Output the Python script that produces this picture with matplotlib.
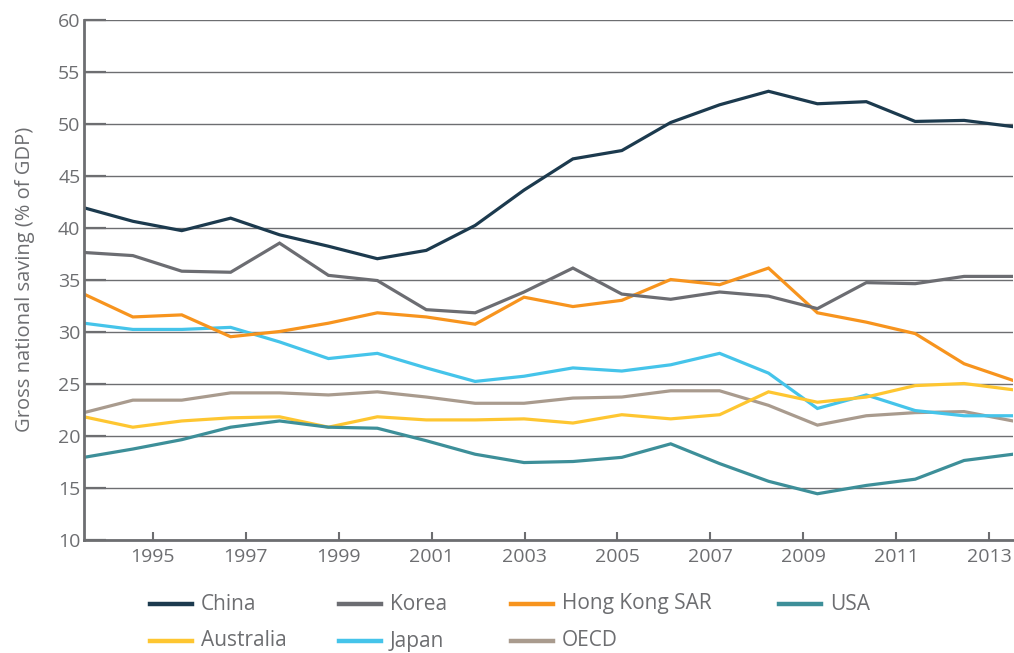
import matplotlib
matplotlib.use("Agg")
import matplotlib.pyplot as plt
from matplotlib.lines import Line2D
import numpy as np

# data, 20 annual points
china = [41.9, 40.6, 39.7, 40.9, 39.3, 38.2, 37.0, 37.8, 40.2, 43.6,
         46.6, 47.4, 50.1, 51.8, 53.1, 51.9, 52.1, 50.2, 50.3, 49.7]
korea = [37.6, 37.3, 35.8, 35.7, 38.5, 35.4, 34.9, 32.1, 31.8, 33.8,
         36.1, 33.6, 33.1, 33.8, 33.4, 32.2, 34.7, 34.6, 35.3, 35.3]
hong_kong = [33.6, 31.4, 31.6, 29.5, 30.0, 30.8, 31.8, 31.4, 30.7, 33.3,
             32.4, 33.0, 35.0, 34.5, 36.1, 31.8, 30.9, 29.8, 26.9, 25.3]
usa = [17.9, 18.7, 19.6, 20.8, 21.4, 20.8, 20.7, 19.5, 18.2, 17.4,
       17.5, 17.9, 19.2, 17.3, 15.6, 14.4, 15.2, 15.8, 17.6, 18.2]
australia = [21.8, 20.8, 21.4, 21.7, 21.8, 20.8, 21.8, 21.5, 21.5, 21.6,
             21.2, 22.0, 21.6, 22.0, 24.2, 23.2, 23.7, 24.8, 25.0, 24.4]
japan = [30.8, 30.2, 30.2, 30.4, 29.0, 27.4, 27.9, 26.5, 25.2, 25.7,
         26.5, 26.2, 26.8, 27.9, 26.0, 22.6, 23.9, 22.4, 21.9, 21.9]
oecd = [22.2, 23.4, 23.4, 24.1, 24.1, 23.9, 24.2, 23.7, 23.1, 23.1,
        23.6, 23.7, 24.3, 24.3, 22.9, 21.0, 21.9, 22.2, 22.3, 21.4]

tick_labels = ["1995", "1997", "1999", "2001", "2003",
               "2005", "2007", "2009", "2011", "2013"]

series = [
    ("China", china, "#1c3a4e"),
    ("Korea", korea, "#6c6d72"),
    ("Hong Kong SAR", hong_kong, "#f7941e"),
    ("USA", usa, "#3d8f99"),
    ("Australia", australia, "#fec631"),
    ("Japan", japan, "#45c4ea"),
    ("OECD", oecd, "#a99b8e"),
]

grey = "#6d6e71"
plt.rcParams["font.family"] = ["Open Sans", "DejaVu Sans"]

fig = plt.figure(figsize=(10.14, 6.53), dpi=100)
ax = fig.add_axes([0.0828, 0.1738, 0.9162, 0.7963])

x = np.arange(len(china))
# draw in reverse so China sits on top
for name, vals, col in series[::-1]:
    ax.plot(x, vals, color=col, lw=2.3, solid_joinstyle="miter")

ax.set_xlim(0, len(china) - 1)
ax.set_ylim(10, 60)
ax.set_yticks(np.arange(10, 61, 5))
ax.set_xticks(np.linspace(1.41, 18.51, len(tick_labels)))
ax.set_xticklabels(tick_labels)

ax.grid(axis="y", color=grey, lw=1.0, zorder=0)
ax.set_axisbelow(True)
for s in ["top", "right"]:
    ax.spines[s].set_visible(False)
for s in ["left", "bottom"]:
    ax.spines[s].set_color(grey)
    ax.spines[s].set_linewidth(2)

ax.tick_params(axis="y", direction="in", length=16, width=1.6, color=grey,
               labelcolor=grey, labelsize=14, pad=2.5)
ax.tick_params(axis="x", direction="in", length=6, width=1.5, color=grey,
               labelcolor=grey, labelsize=14, pad=6)
ax.set_ylabel("Gross national saving (% of GDP)", color=grey, fontsize=14.5)
ax.yaxis.set_label_coords(-0.053, 0.5)

# legend, two rows of four
col_x = [150, 339, 511, 779]
row_y = [604, 641]
W, H = 1014, 653
for i, (name, vals, col) in enumerate(series):
    r, c = divmod(i, 4)
    x0 = col_x[c] / W
    y0 = 1 - row_y[r] / H
    fig.add_artist(Line2D([x0, x0 + 42 / W], [y0, y0], color=col, lw=3.2,
                          transform=fig.transFigure))
    fig.text(x0 + 51 / W, y0, name, color=grey, fontsize=15,
             va="center", ha="left")

fig.savefig("out.png", dpi=100)
